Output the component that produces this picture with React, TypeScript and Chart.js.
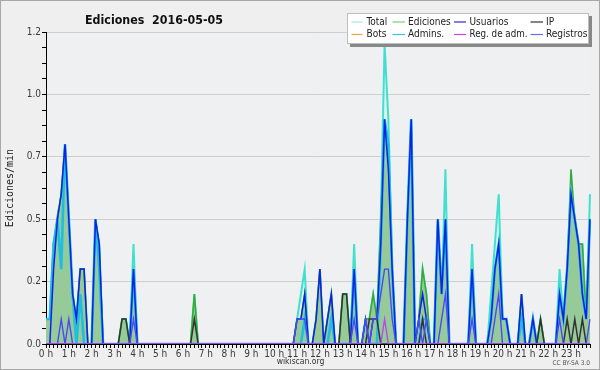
import React, { useEffect, useRef } from "react";
import { Chart, registerables } from "chart.js";

Chart.register(...registerables);

// 10-minute bins over the day (144 categories)
const timeLabels: string[] = [];
for (let h = 0; h < 24; h++) for (let m = 0; m < 6; m++) timeLabels.push(`${h}:${m}0`);

const yTickStep = 0.0625;
const yMax = 1.25;

// one row per hour, 6 bins each
const total = [
  0.1, 0.1, 0.4, 0.5, 0.6, 0.8, // 0h
  0.5, 0.2, 0.1, 0.3, 0.3, 0, // 1h
  0, 0.5, 0.4, 0, 0, 0, // 2h
  0, 0, 0.1, 0.1, 0, 0.4, // 3h
  0, 0, 0, 0, 0, 0, // 4h
  0, 0, 0, 0, 0, 0, // 5h
  0, 0, 0, 0.2, 0, 0, // 6h
  0, 0, 0, 0, 0, 0, // 7h
  0, 0, 0, 0, 0, 0, // 8h
  0, 0, 0, 0, 0, 0, // 9h
  0, 0, 0, 0, 0, 0, // 10h
  0.1, 0.2, 0.3, 0, 0, 0.1, // 11h
  0.3, 0, 0.1, 0.2, 0, 0, // 12h
  0.2, 0.2, 0, 0.4, 0, 0, // 13h
  0.1, 0.1, 0.2, 0.1, 0.5, 1.2, // 14h
  0.9, 0.3, 0, 0, 0, 0.5, // 15h
  0.9, 0, 0.1, 0.3, 0.2, 0, // 16h
  0, 0.5, 0.2, 0.7, 0, 0, // 17h
  0, 0, 0, 0, 0.4, 0, // 18h
  0, 0, 0, 0.2, 0.4, 0.6, // 19h
  0.1, 0.1, 0, 0, 0, 0.2, // 20h
  0, 0, 0.1, 0, 0.1, 0, // 21h
  0, 0, 0, 0.3, 0.1, 0.3, // 22h
  0.6, 0.5, 0.4, 0.4, 0.1, 0.6, // 23h
];

const ediciones = [
  0.1, 0.1, 0.4, 0.5, 0.6, 0.8,
  0.5, 0.2, 0.1, 0.3, 0.3, 0,
  0, 0.5, 0.4, 0, 0, 0,
  0, 0, 0.1, 0.1, 0, 0.3,
  0, 0, 0, 0, 0, 0,
  0, 0, 0, 0, 0, 0,
  0, 0, 0, 0.2, 0, 0,
  0, 0, 0, 0, 0, 0,
  0, 0, 0, 0, 0, 0,
  0, 0, 0, 0, 0, 0,
  0, 0, 0, 0, 0, 0,
  0.1, 0.1, 0.2, 0, 0, 0.1,
  0.3, 0, 0.1, 0.2, 0, 0,
  0.2, 0.2, 0, 0.3, 0, 0,
  0.1, 0.1, 0.2, 0.1, 0.5, 0.9,
  0.8, 0.3, 0, 0, 0, 0.5,
  0.9, 0, 0.1, 0.3, 0.2, 0,
  0, 0.5, 0.2, 0.5, 0, 0,
  0, 0, 0, 0, 0.3, 0,
  0, 0, 0, 0.1, 0.3, 0.4,
  0.1, 0.1, 0, 0, 0, 0.2,
  0, 0, 0.1, 0, 0.1, 0,
  0, 0, 0, 0.2, 0.1, 0.3,
  0.7, 0.5, 0.4, 0.4, 0.1, 0.5,
];

const usuarios = [
  0, 0, 0.3, 0.5, 0.6, 0.8,
  0.5, 0.2, 0.1, 0.3, 0.3, 0,
  0, 0.5, 0.4, 0, 0, 0,
  0, 0, 0, 0, 0, 0.3,
  0, 0, 0, 0, 0, 0,
  0, 0, 0, 0, 0, 0,
  0, 0, 0, 0, 0, 0,
  0, 0, 0, 0, 0, 0,
  0, 0, 0, 0, 0, 0,
  0, 0, 0, 0, 0, 0,
  0, 0, 0, 0, 0, 0,
  0.1, 0.1, 0.2, 0, 0, 0.1,
  0.3, 0, 0.1, 0.2, 0, 0,
  0, 0, 0, 0.3, 0, 0,
  0.1, 0, 0.1, 0.1, 0.4, 0.9,
  0.7, 0.3, 0, 0, 0, 0.5,
  0.9, 0, 0.1, 0.2, 0.1, 0,
  0, 0.5, 0.2, 0.5, 0, 0,
  0, 0, 0, 0, 0.3, 0,
  0, 0, 0, 0.1, 0.3, 0.4,
  0.1, 0.1, 0, 0, 0, 0.2,
  0, 0, 0.1, 0, 0, 0,
  0, 0, 0, 0.2, 0.1, 0.3,
  0.6, 0.5, 0.4, 0.2, 0.1, 0.5,
];

const ip = [
  0, 0, 0, 0, 0, 0,
  0, 0, 0, 0, 0, 0,
  0, 0, 0, 0, 0, 0,
  0, 0, 0.1, 0.1, 0, 0,
  0, 0, 0, 0, 0, 0,
  0, 0, 0, 0, 0, 0,
  0, 0, 0, 0.1, 0, 0,
  0, 0, 0, 0, 0, 0,
  0, 0, 0, 0, 0, 0,
  0, 0, 0, 0, 0, 0,
  0, 0, 0, 0, 0, 0,
  0, 0, 0, 0, 0, 0,
  0, 0, 0, 0, 0, 0,
  0.2, 0.2, 0, 0, 0, 0,
  0, 0.1, 0.1, 0.1, 0, 0,
  0, 0, 0, 0, 0, 0,
  0, 0, 0, 0.1, 0, 0,
  0, 0, 0, 0, 0, 0,
  0, 0, 0, 0, 0, 0,
  0, 0, 0, 0, 0, 0,
  0, 0, 0, 0, 0, 0,
  0, 0, 0, 0, 0.1, 0,
  0, 0, 0, 0, 0, 0.1,
  0, 0.1, 0, 0.1, 0, 0,
];

const bots = new Array(144).fill(0);

const admins = [
  0.1, 0.1, 0.4, 0.5, 0.3, 0.8,
  0.5, 0.2, 0, 0.2, 0, 0,
  0, 0.5, 0.3, 0, 0, 0,
  0, 0, 0, 0, 0, 0.3,
  0, 0, 0, 0, 0, 0,
  0, 0, 0, 0, 0, 0,
  0, 0, 0, 0, 0, 0,
  0, 0, 0, 0, 0, 0,
  0, 0, 0, 0, 0, 0,
  0, 0, 0, 0, 0, 0,
  0, 0, 0, 0, 0, 0,
  0, 0, 0.1, 0, 0, 0,
  0, 0, 0, 0.1, 0, 0,
  0, 0, 0, 0.3, 0, 0,
  0, 0, 0, 0, 0.4, 0.9,
  0.8, 0.3, 0, 0, 0, 0.5,
  0.9, 0, 0, 0.1, 0.1, 0,
  0, 0.5, 0.2, 0.5, 0, 0,
  0, 0, 0, 0, 0.3, 0,
  0, 0, 0, 0.1, 0.3, 0.4,
  0.1, 0.1, 0, 0, 0, 0.1,
  0, 0, 0.1, 0, 0, 0,
  0, 0, 0, 0.2, 0.1, 0.3,
  0.6, 0.5, 0.4, 0.2, 0.1, 0.5,
];

const regAdm = [
  0, 0, 0, 0, 0, 0,
  0, 0, 0, 0, 0, 0,
  0, 0, 0, 0, 0, 0,
  0, 0, 0, 0, 0, 0,
  0, 0, 0, 0, 0, 0,
  0, 0, 0, 0, 0, 0,
  0, 0, 0, 0, 0, 0,
  0, 0, 0, 0, 0, 0,
  0, 0, 0, 0, 0, 0,
  0, 0, 0, 0, 0, 0,
  0, 0, 0, 0, 0, 0,
  0, 0, 0, 0, 0, 0,
  0, 0, 0, 0, 0, 0,
  0, 0, 0, 0, 0, 0,
  0, 0, 0, 0, 0, 0.1,
  0, 0, 0, 0, 0, 0,
  0, 0, 0, 0, 0, 0,
  0, 0, 0, 0, 0, 0,
  0, 0, 0, 0, 0, 0,
  0, 0, 0, 0, 0, 0,
  0, 0, 0, 0, 0, 0,
  0, 0, 0, 0, 0, 0,
  0, 0, 0, 0, 0, 0,
  0, 0, 0, 0, 0, 0,
];

const registros = [
  0, 0, 0, 0, 0.1, 0,
  0.1, 0, 0, 0, 0, 0,
  0, 0, 0, 0, 0, 0,
  0, 0, 0, 0, 0, 0.1,
  0, 0, 0, 0, 0, 0,
  0, 0, 0, 0, 0, 0,
  0, 0, 0, 0, 0, 0,
  0, 0, 0, 0, 0, 0,
  0, 0, 0, 0, 0, 0,
  0, 0, 0, 0, 0, 0,
  0, 0, 0, 0, 0, 0,
  0.1, 0.1, 0.1, 0, 0, 0,
  0, 0, 0, 0, 0, 0,
  0, 0, 0, 0.1, 0, 0,
  0.1, 0, 0.1, 0.1, 0.2, 0.3,
  0.3, 0.1, 0, 0, 0, 0,
  0, 0, 0.1, 0, 0.1, 0,
  0, 0, 0.1, 0.2, 0, 0,
  0, 0, 0, 0, 0.1, 0,
  0, 0, 0, 0, 0.1, 0.2,
  0, 0, 0, 0, 0, 0,
  0, 0, 0, 0, 0, 0,
  0, 0, 0, 0.1, 0, 0,
  0, 0, 0, 0, 0, 0.1,
];

const titleText = "Ediciones  2016-05-05";
const yAxisTitle = "Ediciones/min";
const footerText = "wikiscan.org";
const licenseText = "CC BY-SA 3.0";

const legendItems = [
  { label: "Total", color: "#a8e6e0" },
  { label: "Ediciones", color: "#7ccf7c" },
  { label: "Usuarios", color: "#2a2ae0" },
  { label: "IP", color: "#333333" },
  { label: "Bots", color: "#f5a040" },
  { label: "Admins.", color: "#3cc4e0" },
  { label: "Reg. de adm.", color: "#d040e8" },
  { label: "Registros", color: "#6c6cf0" },
];

function hasFont(name: string): boolean {
  const c = document.createElement("canvas").getContext("2d");
  if (!c) return false;
  c.font = "20px monospace";
  const a = c.measureText("Ediciones wikiscan 0.5").width;
  c.font = `20px "${name}", monospace`;
  const b = c.measureText("Ediciones wikiscan 0.5").width;
  return Math.abs(a - b) > 0.5;
}

export default function App() {
  const ref = useRef<HTMLCanvasElement | null>(null);

  useEffect(() => {
    document.body.style.margin = "0";
    const canvas = ref.current;
    if (!canvas) return;
    const cond = hasFont("DejaVu Sans Condensed");
    const fam = cond ? '"DejaVu Sans Condensed", "DejaVu Sans", sans-serif' : '"DejaVu Sans", sans-serif';
    const small = cond ? 10 : 9;

    const decor = {
      id: "decor",
      beforeDraw(chart: any) {
        const { ctx, chartArea: a } = chart;
        ctx.save();
        ctx.fillStyle = "#efefef";
        ctx.fillRect(0, 0, chart.width, chart.height);
        ctx.fillStyle = "#eff0f2";
        ctx.fillRect(a.left, a.top, a.right - a.left, a.bottom - a.top);
        ctx.restore();
      },
      afterDraw(chart: any) {
        const { ctx } = chart;
        ctx.save();
        // title
        ctx.fillStyle = "#111";
        ctx.font = `bold 13px ${fam}`;
        ctx.textBaseline = "alphabetic";
        ctx.textAlign = "left";
        ctx.fillText(titleText, 85, 23.5, 138);

        // y axis title
        ctx.save();
        ctx.translate(10, 188);
        ctx.rotate(-Math.PI / 2);
        ctx.font = '10px "DejaVu Sans Mono", monospace';
        ctx.textAlign = "center";
        ctx.textBaseline = "middle";
        ctx.fillStyle = "#222";
        ctx.fillText(yAxisTitle, 0, 0);
        ctx.restore();

        // footer
        ctx.font = `8.5px ${fam}`;
        ctx.fillStyle = "#333";
        ctx.textAlign = "center";
        ctx.textBaseline = "alphabetic";
        ctx.fillText(footerText, 300.5, 363.5, 48);
        ctx.font = `6.5px ${fam}`;
        ctx.fillStyle = "#555";
        ctx.textAlign = "right";
        ctx.fillText(licenseText, 590, 364.5, 41);

        // legend box
        const bx = 347, by = 13, bw = 242, bh = 31;
        ctx.fillStyle = "#888888";
        ctx.fillRect(bx + 3, by + 3, bw, bh);
        ctx.fillStyle = "#ffffff";
        ctx.fillRect(bx, by, bw, bh);
        ctx.strokeStyle = "#bdbdbd";
        ctx.lineWidth = 1;
        ctx.strokeRect(bx + 0.5, by + 0.5, bw - 1, bh - 1);
        const cols = [
          { l0: 351.5, l1: 362.5, t: 366.5, w: 24 },
          { l0: 392.5, l1: 405, t: 408, w: 45 },
          { l0: 454, l1: 466, t: 469.5, w: 58 },
          { l0: 530.5, l1: 543, t: 546, w: 42 },
        ];
        const rows = [21.5, 34];
        ctx.font = `${small}px ${fam}`;
        ctx.textAlign = "left";
        ctx.textBaseline = "middle";
        legendItems.forEach((it, k) => {
          const c = cols[k % 4];
          const y = rows[Math.floor(k / 4)];
          ctx.strokeStyle = it.color;
          ctx.lineWidth = 1.2;
          ctx.beginPath();
          ctx.moveTo(c.l0, y + 0.5);
          ctx.lineTo(c.l1, y + 0.5);
          ctx.stroke();
          ctx.fillStyle = "#222";
          ctx.fillText(it.label, c.t, y + 0.5, c.w);
        });

        // outer border
        ctx.strokeStyle = "#a8a8a8";
        ctx.lineWidth = 1;
        ctx.strokeRect(0.5, 0.5, chart.width - 1, chart.height - 1);
        ctx.restore();
      },
    };

    const line = (label: string, data: number[], color: string, width: number, order: number, extra: any = {}) => ({
      label,
      data,
      borderColor: color,
      borderWidth: width,
      pointRadius: 0,
      tension: 0,
      fill: false,
      order,
      ...extra,
    });

    const chart = new Chart(canvas, {
      type: "line",
      data: {
        labels: timeLabels,
        datasets: [
          line("Total", total, "#40e0d0", 2, 8, { fill: "origin", backgroundColor: "rgba(214,244,238,0.75)" }),
          line("Ediciones", ediciones, "#35ac3a", 1.6, 7, { fill: "origin", backgroundColor: "rgb(150,202,152)" }),
          line("Bots", bots, "#f5a040", 1, 6),
          line("Admins.", admins, "#1fbde2", 2.6, 5),
          line("Usuarios", usuarios, "#1020e8", 1.5, 4),
          line("IP", ip, "#333333", 1.5, 3),
          line("Registros", registros, "#4a4af5", 1.4, 2),
          line("Reg. de adm.", regAdm, "#b848ec", 1.4, 1),
        ] as any,
      },
      options: {
        responsive: false,
        animation: false,
        events: [],
        layout: { padding: { top: 32, right: 10, left: 0, bottom: 0 } },
        plugins: {
          legend: { display: false },
          tooltip: { enabled: false },
          title: { display: false },
          filler: { propagate: false },
        },
        scales: {
          x: {
            type: "category",
            offset: false,
            z: 1,
            grid: {
              offset: false,
              drawOnChartArea: false,
              drawTicks: true,
              tickLength: 4,
              tickColor: "#000",
              tickWidth: 1,
            },
            border: { color: "#000", width: 1 },
            ticks: {
              autoSkip: false,
              maxRotation: 0,
              minRotation: 0,
              padding: 0,
              color: "#3a3a3a",
              font: { size: small, family: fam },
              callback: (_v: any, i: number) => (i % 6 === 0 ? `${i / 6} h` : ""),
            },
            afterFit: (s: any) => {
              s.height = 26;
            },
          },
          y: {
            type: "linear",
            min: 0,
            max: yMax,
            grid: {
              color: (c: any) => {
                const v = c.tick ? c.tick.value : NaN;
                return Math.abs(v * 4 - Math.round(v * 4)) < 1e-6 ? "#cfcfcf" : "rgba(0,0,0,0)";
              },
              tickColor: "#000",
              tickLength: 4,
              drawTicks: true,
              lineWidth: 1,
            },
            border: { color: "#000", width: 1 },
            ticks: {
              stepSize: yTickStep,
              maxTicksLimit: 100,
              autoSkip: false,
              padding: 1,
              color: "#3a3a3a",
              font: { size: small, family: fam },
              callback: (v: any) => {
                const n = Number(v);
                if (Math.abs(n * 4 - Math.round(n * 4)) > 1e-6) return "";
                return (Math.floor(n * 10 + 1e-6) / 10).toFixed(1);
              },
            },
            afterFit: (s: any) => {
              s.width = 46;
            },
          },
        },
      } as any,
      plugins: [decor],
    });

    return () => chart.destroy();
  }, []);

  return (
    <div style={{ width: 600, height: 370 }}>
      <canvas ref={ref} width={600} height={370} style={{ display: "block" }} />
    </div>
  );
}
